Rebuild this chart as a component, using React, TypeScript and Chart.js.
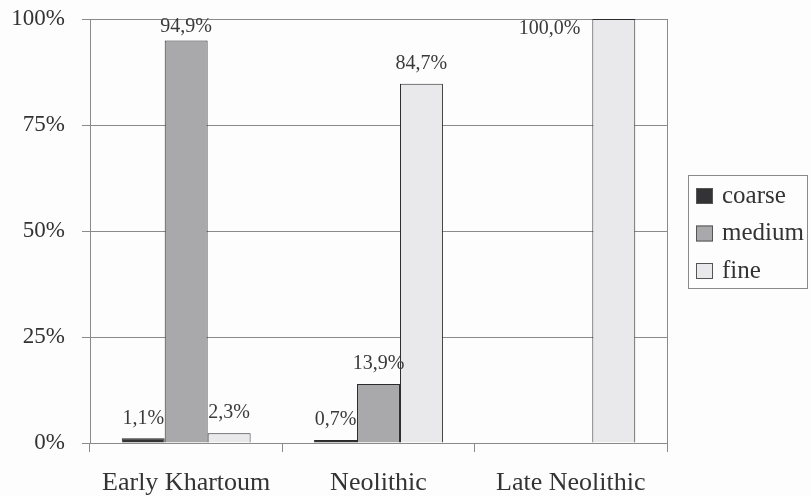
import React, { useEffect, useRef } from "react";
import { Chart, registerables } from "chart.js";

Chart.register(...registerables);

const categories = ["Early Khartoum", "Neolithic", "Late Neolithic"];
const seriesNames = ["coarse", "medium", "fine"];
const coarse = [1.1, 0.7, 0];
const medium = [94.9, 13.9, 0];
const fine = [2.3, 84.7, 100.0];
const yTicks = [0, 25, 50, 75, 100];

const fills = ["#333335", "#a9a9ab", "#e9e9eb"];
const FONT = "Liberation Serif";

const labelPlugin = {
  id: "barLabels",
  afterDatasetsDraw(chart: any) {
    const ctx = chart.ctx;
    const top = chart.chartArea.top;
    ctx.save();
    ctx.font = `20px "${FONT}"`;
    ctx.fillStyle = "#3a3a3a";
    ctx.textBaseline = "middle";
    chart.data.datasets.forEach((ds: any, di: number) => {
      const meta = chart.getDatasetMeta(di);
      meta.data.forEach((bar: any, i: number) => {
        const v = ds.data[i];
        if (!v) return;
        const txt = v.toFixed(1).replace(".", ",") + "%";
        let y = bar.y - 20;
        if (v >= 99.5) {
          ctx.textAlign = "right";
          ctx.fillText(txt, bar.x - bar.width / 2 - 12, top + 10);
          return;
        }
        if (y < top + 8) y = top + 8;
        ctx.textAlign = "center";
        ctx.fillText(txt, bar.x, y);
      });
    });
    ctx.restore();
  },
};

const framePlugin = {
  id: "frame",
  afterDraw(chart: any) {
    const { ctx, chartArea } = chart;
    ctx.save();
    ctx.strokeStyle = "#8a8a8a";
    ctx.lineWidth = 1;
    ctx.beginPath();
    ctx.moveTo(Math.round(chartArea.right) + 0.5, chartArea.top);
    ctx.lineTo(Math.round(chartArea.right) + 0.5, chartArea.bottom);
    ctx.stroke();
    // legend
    const lx = 688, ly = 175, lw = 119, lh = 113;
    ctx.strokeStyle = "#8a8a8a";
    ctx.strokeRect(lx + 0.5, ly + 0.5, lw, lh);
    ctx.font = `25px "${FONT}"`;
    ctx.textBaseline = "middle";
    ctx.textAlign = "left";
    chart.data.datasets.forEach((ds: any, i: number) => {
      const cy = 196 + i * 37.5;
      ctx.fillStyle = ds.backgroundColor;
      ctx.fillRect(696, cy - 8, 17, 16);
      ctx.strokeStyle = "#555";
      ctx.strokeRect(696.5, cy - 7.5, 16, 15);
      ctx.fillStyle = "#333";
      ctx.fillText(ds.label, 722, cy);
    });
    ctx.restore();
  },
};

export default function App() {
  const ref = useRef<HTMLCanvasElement>(null);
  useEffect(() => {
    document.body.style.margin = "0";
    const values = [coarse, medium, fine];
    const chart = new Chart(ref.current as HTMLCanvasElement, {
      type: "bar",
      data: {
        labels: categories,
        datasets: seriesNames.map((name, i) => ({
          label: name,
          data: values[i],
          backgroundColor: fills[i],
          borderColor: "#2a2a2a",
          borderWidth: 1,
          categoryPercentage: 0.67,
          barPercentage: 1,
        })),
      },
      options: {
        animation: false,
        responsive: false,
        devicePixelRatio: 1,
        layout: { padding: { top: 0, right: 144, left: 0, bottom: 0 } },
        plugins: { legend: { display: false }, tooltip: { enabled: false } },
        scales: {
          x: {
            afterFit: (s: any) => { s.height = 53; },
            grid: { drawOnChartArea: false, drawTicks: true, tickLength: 9, color: "#8a8a8a", offset: true },
            border: { color: "#8a8a8a" },
            ticks: { font: { family: FONT, size: 26 }, color: "#333", padding: 16 },
          },
          y: {
            min: 0,
            max: 100,
            afterFit: (s: any) => { s.width = 90; s.paddingTop = 19; s.paddingBottom = 0; },
            afterBuildTicks: (s: any) => { s.ticks = yTicks.map((v) => ({ value: v })); },
            grid: { color: "#8a8a8a", tickLength: 8 },
            border: { color: "#8a8a8a" },
            ticks: {
              font: { family: FONT, size: 23, lineHeight: 1 },
              color: "#333",
              padding: 17,
              callback: (v: any) => v + "%",
            },
          },
        },
      },
      plugins: [labelPlugin, framePlugin],
    });
    return () => chart.destroy();
  }, []);
  return <canvas ref={ref} width={811} height={496} style={{ display: "block", background: "#fdfdfd" }} />;
}
